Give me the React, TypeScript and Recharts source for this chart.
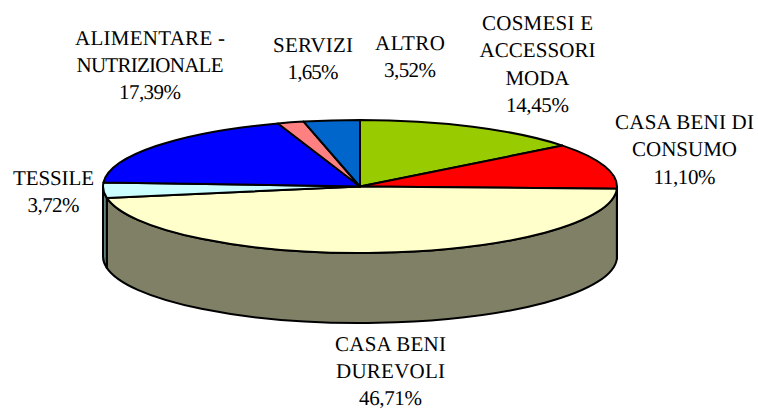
import React from "react";
import { PieChart, Pie } from "recharts";

// Category names, split in lines as printed on the chart
const categoryLines: string[][] = [
  ["COSMESI E", "ACCESSORI", "MODA"],
  ["CASA BENI DI", "CONSUMO"],
  ["CASA BENI", "DUREVOLI"],
  ["TESSILE"],
  ["ALIMENTARE -", "NUTRIZIONALE"],
  ["SERVIZI"],
  ["ALTRO"],
];
// Printed percentages
const percentLabels = ["14,45%", "11,10%", "46,71%", "3,72%", "17,39%", "1,65%", "3,52%"];
// Slice sizes as drawn (the alimentare slice is drawn larger than its printed label)
const sliceValues = [14.45, 11.1, 46.71, 3.72, 18.85, 1.65, 3.52];
const topColors = ["#99CC00", "#FF0000", "#FFFFCC", "#CCFFFF", "#0000FF", "#FF8080", "#0066CC"];
const sideColors = ["#4D6600", "#800000", "#808066", "#668080", "#000080", "#804040", "#003366"];

// Layout
const W = 758;
const H = 409;
const CX = 360;
const CY = 186.5;
const RX = 257;
const RY_RATIO = 66.5 / 257;
const DEPTH = 70;
const FONT_SIZE = 21;
const LINE_H = 27.4;
const labelAnchors: [number, number][] = [
  [537.5, 30],
  [684.5, 129],
  [390.5, 350.5],
  [53.5, 185],
  [150, 44.5],
  [313, 52],
  [410, 49.5],
];
const labelLineWidths: number[][] = [
  [111, 116, 64, 63],
  [139, 105, 62],
  [111, 109, 63],
  [81, 52],
  [150, 147, 62],
  [80, 51],
  [70, 52],
];

const table = sliceValues.map((value, i) => ({
  name: categoryLines[i].join(" "),
  value,
  fill: topColors[i],
  side: sideColors[i],
}));

const pt = (cx: number, cy: number, r: number, deg: number): [number, number] => {
  const a = (-deg * Math.PI) / 180;
  return [cx + r * Math.cos(a), cy + r * RY_RATIO * Math.sin(a)];
};

const TopSlice = (p: any) => {
  const { cx, cy, outerRadius: r, startAngle, endAngle } = p;
  const [x0, y0] = pt(cx, cy, r, startAngle);
  const [x1, y1] = pt(cx, cy, r, endAngle);
  const large = Math.abs(startAngle - endAngle) > 180 ? 1 : 0;
  const d = `M${cx},${cy}L${x0},${y0}A${r},${r * RY_RATIO} 0 ${large} 1 ${x1},${y1}Z`;
  return <path d={d} fill={p.fill} stroke="#000" strokeWidth={2} strokeLinejoin="round" />;
};

const SideSlice = (p: any) => {
  const { cx, cy, outerRadius: r, startAngle, endAngle } = p;
  const hi = Math.min(startAngle, 0);
  const lo = Math.max(endAngle, -180);
  if (hi <= lo) return <g />;
  const [x0, y0] = pt(cx, cy, r, hi);
  const [x1, y1] = pt(cx, cy, r, lo);
  const ry = r * RY_RATIO;
  const d = `M${x0},${y0}A${r},${ry} 0 0 1 ${x1},${y1}L${x1},${y1 + DEPTH}A${r},${ry} 0 0 0 ${x0},${y0 + DEPTH}Z`;
  return <path d={d} fill={p.payload?.side ?? p.side} stroke="#000" strokeWidth={2} strokeLinejoin="round" />;
};

const SliceLabel = (p: any) => {
  const i = p.index as number;
  const [x, y] = labelAnchors[i];
  const lines = [...categoryLines[i], percentLabels[i]];
  return (
    <g>
      {lines.map((t, k) => (
        <text
          key={k}
          x={x}
          y={y + k * LINE_H}
          textAnchor="middle"
          textLength={labelLineWidths[i][k]}
          lengthAdjust="spacing"
          fontFamily="'Liberation Serif', serif"
          fontSize={FONT_SIZE}
          fill="#000"
          style={{ textRendering: "geometricPrecision" }}
        >
          {t}
        </text>
      ))}
    </g>
  );
};

export default function App() {
  return (
    <div style={{ position: "absolute", left: 0, top: 0, width: W, height: H, background: "#fff" }}>
      <PieChart width={W} height={H} margin={{ top: 0, right: 0, bottom: 0, left: 0 }}>
        <Pie
          data={table}
          dataKey="value"
          cx={CX}
          cy={CY}
          innerRadius={0}
          outerRadius={RX}
          startAngle={90}
          endAngle={-270}
          paddingAngle={0}
          isAnimationActive={false}
          shape={SideSlice}
          label={false}
          labelLine={false}
          legendType="none"
        />
        <Pie
          data={table}
          dataKey="value"
          cx={CX}
          cy={CY}
          innerRadius={0}
          outerRadius={RX}
          startAngle={90}
          endAngle={-270}
          paddingAngle={0}
          isAnimationActive={false}
          shape={TopSlice}
          label={SliceLabel}
          labelLine={false}
          legendType="none"
        />
      </PieChart>
    </div>
  );
}
